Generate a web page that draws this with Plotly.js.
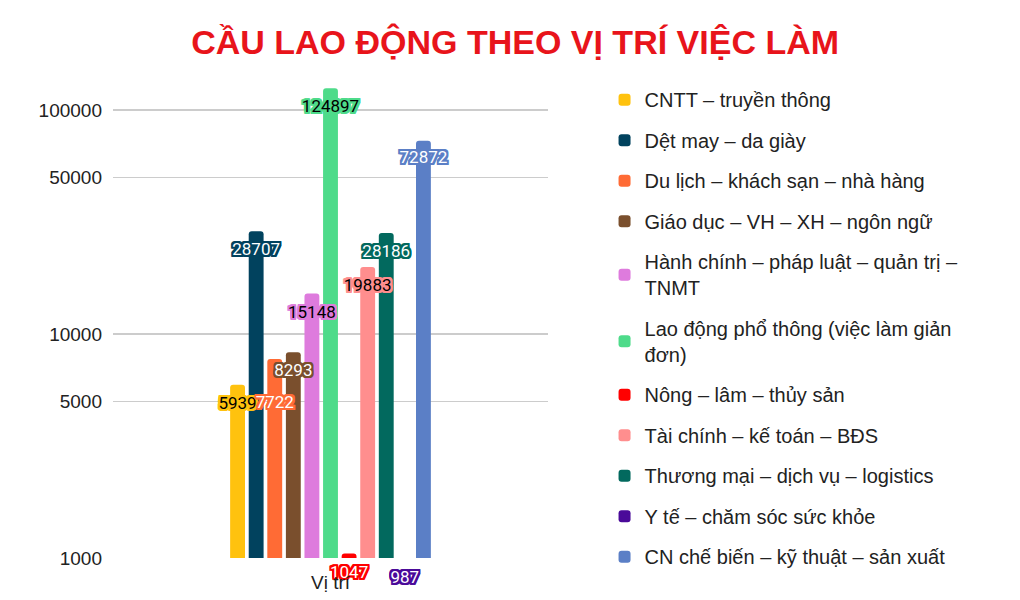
<!DOCTYPE html>
<html><head><meta charset="utf-8">
<script src="https://cdn.plot.ly/plotly-3.0.1.min.js"></script>
<style>body{margin:0;background:#fff}#chart{width:1020px;height:600px}</style>
</head><body><div id="chart"></div>
<script>
const category = ["Vị trí"];
const seriesNames = [
  "CNTT – truyền thông",
  "Dệt may – da giày",
  "Du lịch – khách sạn – nhà hàng",
  "Giáo dục – VH – XH – ngôn ngữ",
  "Hành chính – pháp luật – quản trị –<br>TNMT",
  "Lao động phổ thông (việc làm giản<br>đơn)",
  "Nông – lâm – thủy sản",
  "Tài chính – kế toán – BĐS",
  "Thương mại – dịch vụ – logistics",
  "Y tế – chăm sóc sức khỏe",
  "CN chế biến – kỹ thuật – sản xuất"
];
const seriesValues = [5939, 28707, 7722, 8293, 15148, 124897, 1047, 19883, 28186, 987, 72872];
const seriesColors = ["#FFC20E","#01425E","#FF6B35","#7A4F2D","#DE7BDD","#4EDB8A","#FF0000","#FF8E8E","#02695E","#4A0A99","#5B7FC6"];
const labelColors = ["#000","#fff","#fff","#fff","#000","#000","#fff","#000","#fff","#fff","#fff"];
const yTicks = [1000, 5000, 10000, 50000, 100000];
// invisible marker size used only to set how far each value label sits below its bar top
const labelGap = [20, 20, 60, 20, 20, 20, 20, 20, 20, 20, 18];

function outline(c){
  const o=[];
  for(const dx of [-2,-1,0,1,2]) for(const dy of [-2,-1,0,1,2]) if(dx||dy) o.push(dx+"px "+dy+"px 0 "+c);
  return o.join(", ");
}

const bars = seriesNames.map((n,i)=>({
  type:"bar",
  name:n,
  x:category,
  y:[seriesValues[i]],
  offsetgroup:String(i),
  marker:{color:seriesColors[i]},
  legendgroup:"g"+i,
  hoverinfo:"none"
}));

// value labels: grouped scatter text on an overlaid subplot, above every bar
const labels = seriesNames.map((n,i)=>({
  type:"scatter",
  mode:"markers+text",
  name:n,
  x:category,
  y:[seriesValues[i]],
  offsetgroup:String(i),
  xaxis:"x2",yaxis:"y2",
  marker:{size:labelGap[i],opacity:0,color:seriesColors[i]},
  text:[String(seriesValues[i])],
  textposition:"bottom center",
  cliponaxis:false,
  textfont:{family:"Roboto, sans-serif",size:17,color:labelColors[i],shadow:outline(seriesColors[i])},
  showlegend:false,
  hoverinfo:"none"
}));

const yRange = [3, 5.12];
const labelAxisShift = 0.01; // keeps the 987 label inside the label axis range

const layout = {
  width:1020,height:600,
  paper_bgcolor:"#fff",plot_bgcolor:"#fff",
  margin:{l:113,r:472,t:83,b:42},
  title:{text:"CẦU LAO ĐỘNG THEO VỊ TRÍ VIỆC LÀM",font:{family:"Liberation Sans, Arial, sans-serif",size:34,color:"#E8141B",weight:"bold"},x:0.505,xanchor:"center",y:0.93,yanchor:"middle"},
  barmode:"group",bargap:0.53,bargroupgap:0.2,barcornerradius:3,
  scattermode:"group",scattergap:0.53,
  font:{family:"Liberation Sans, Arial, sans-serif",color:"#222"},
  xaxis:{type:"category",showgrid:false,showline:false,ticks:"",tickfont:{size:19,color:"#222"},ticklabelstandoff:11},
  yaxis:{type:"log",range:yRange,tickvals:yTicks,ticktext:yTicks.map(String),gridcolor:"#cccccc",gridwidth:1.5,zeroline:false,showline:false,tickfont:{size:19,color:"#222"},ticklabelstandoff:10},
  xaxis2:{type:"category",overlaying:"x",matches:"x",visible:false},
  yaxis2:{type:"log",overlaying:"y",range:[yRange[0]-labelAxisShift,yRange[1]-labelAxisShift],visible:false},
  legend:{x:1.13,xanchor:"left",y:1.006,yanchor:"top",font:{size:20,color:"#222"},tracegroupgap:11.5,itemwidth:30,maxheight:560}
};
Plotly.newPlot("chart",bars.concat(labels),layout,{staticPlot:true});
</script></body></html>
